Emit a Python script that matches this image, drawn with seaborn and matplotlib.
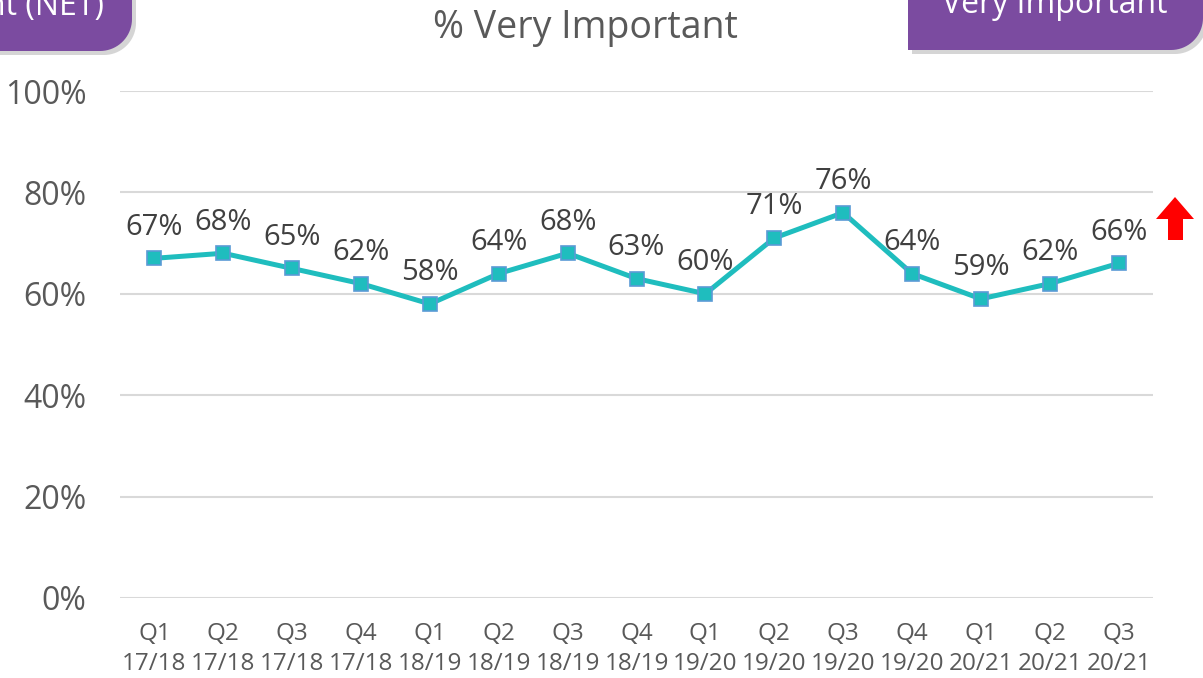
import numpy as np
import pandas as pd
import matplotlib.pyplot as plt
import seaborn as sns
from matplotlib.patches import Polygon

quarters = ['Q1', 'Q2', 'Q3', 'Q4', 'Q1', 'Q2', 'Q3', 'Q4', 'Q1', 'Q2', 'Q3', 'Q4', 'Q1', 'Q2', 'Q3']
years = ['17/18'] * 4 + ['18/19'] * 4 + ['19/20'] * 4 + ['20/21'] * 3
very_important = [67, 68, 65, 62, 58, 64, 68, 63, 60, 71, 76, 64, 59, 62, 66]
y_ticks = [0, 20, 40, 60, 80, 100]

df = pd.DataFrame({'period': [q + '\n' + y for q, y in zip(quarters, years)],
                   'pct': very_important})

sns.set_style('white')
plt.rcParams['font.family'] = ['Open Sans', 'DejaVu Sans']

W, H = 1203, 678
fig = plt.figure(figsize=(W / 100, H / 100), dpi=100)
ax = fig.add_axes([120 / W, 1 - 598 / H, (1153 - 120) / W, (598 - 91) / H])

sns.lineplot(data=df, x='period', y='pct', ax=ax, sort=False, color='#1FBDBE', lw=3.6,
             marker='s', markersize=10, markerfacecolor='#1FBDBE', markeredgecolor='#5B9BD5',
             markeredgewidth=1.2, zorder=3)

for i, v in enumerate(df['pct']):
    ax.annotate(f'{v}%', (i, v), xytext=(0, 17), textcoords='offset points',
                ha='center', va='baseline', fontsize=21, color='#404040')

ax.set_ylim(0, 100)
ax.set_xlim(-0.5, len(df) - 0.5)
ax.set_yticks(y_ticks)
ax.set_yticklabels([f'{t}%' for t in y_ticks], fontsize=23, color='#595959')
ax.tick_params(axis='x', labelsize=17.5, colors='#595959', length=0, pad=17)
ax.tick_params(axis='y', length=0, pad=24)
for lbl in ax.get_xticklabels():
    lbl.set_linespacing(1.35)
ax.yaxis.grid(True, color='#D9D9D9', lw=1.5)
ax.set_axisbelow(True)
ax.set_xlabel('')
ax.set_ylabel('')
for s in ax.spines.values():
    s.set_visible(False)

fig.text(585 / W, 1 - 38 / H, '% Very Important', ha='center', va='baseline',
         fontsize=27, color='#595959')


def px(pts):
    return [(x / W, 1 - y / H) for x, y in pts]


def tab(x0, x1, y_bot, r):
    # box hanging from the top edge, only the bottom-right corner rounded
    ang = np.linspace(0, np.pi / 2, 20)
    arc = [(x1 - r + r * np.cos(a), y_bot - r + r * np.sin(a)) for a in ang]
    return [(x0, -20), (x1, -20)] + arc + [(x0, y_bot)]


purple = '#7B4BA0'
for x0, x1, yb in [(-40, 132, 51), (908, 1203, 50)]:
    shadow = Polygon(px([(x + 4, y + 4) for x, y in tab(x0, x1, yb, 32)]), closed=True,
                     transform=fig.transFigure, facecolor='#888888', alpha=0.35, lw=0)
    box = Polygon(px(tab(x0, x1, yb, 32)), closed=True, transform=fig.transFigure,
                  facecolor=purple, lw=0)
    fig.patches.extend([shadow, box])

fig.text(104 / W, 1 - 15 / H, 'Important (NET)', ha='right', va='baseline',
         fontsize=23, color='white')
fig.text(1055 / W, 1 - 13 / H, 'Very Important', ha='center', va='baseline',
         fontsize=23, color='white')

arrow = Polygon(px([(1175, 197), (1194, 219), (1183, 219), (1183, 240),
                    (1168, 240), (1168, 219), (1156, 219)]), closed=True,
                transform=fig.transFigure, facecolor='#FF0000', lw=0)
fig.patches.append(arrow)

fig.savefig('out.png', dpi=100)
